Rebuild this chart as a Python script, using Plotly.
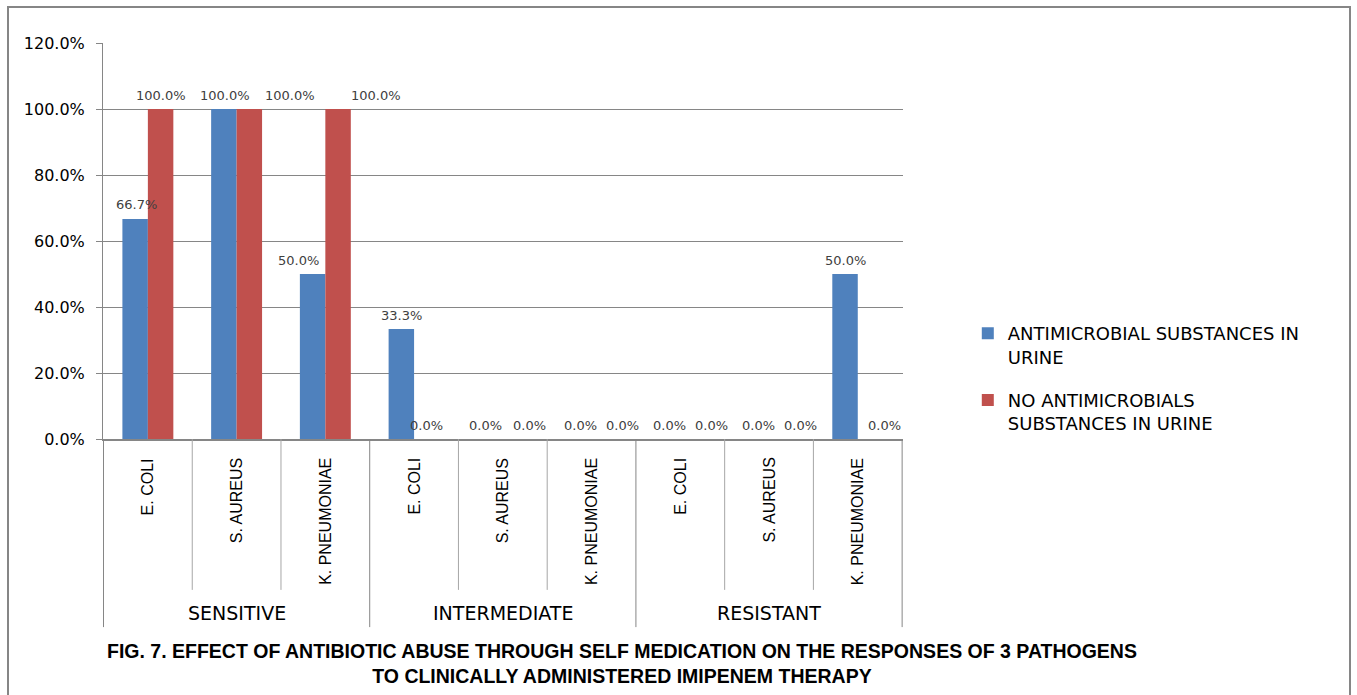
import plotly.graph_objects as go

# Response categories and the pathogens tested within each
responses = ["SENSITIVE", "INTERMEDIATE", "RESISTANT"]
pathogens = ["E. COLI", "S. AUREUS", "K. PNEUMONIAE"]

# Share of isolates per response / pathogen (fractions)
with_antimicrobials = [0.667, 1.0, 0.5, 0.333, 0.0, 0.0, 0.0, 0.0, 0.5]
without_antimicrobials = [1.0, 1.0, 1.0, 0.0, 0.0, 0.0, 0.0, 0.0, 0.0]

series_names = [
    "ANTIMICROBIAL SUBSTANCES IN<br>URINE",
    "NO ANTIMICROBIALS<br>SUBSTANCES IN URINE",
]
series_colors = ["#4F81BD", "#C0504D"]

caption = ("FIG. 7. EFFECT OF ANTIBIOTIC ABUSE THROUGH SELF MEDICATION ON THE RESPONSES OF 3 PATHOGENS"
           "<br>TO CLINICALLY ADMINISTERED IMIPENEM THERAPY")

# two-level category axis: [response, pathogen]
level_outer = [r for r in responses for _ in pathogens]
level_inner = [p for _ in responses for p in pathogens]
x_cats = [level_outer, level_inner]

GRID = "#868686"
LABEL_FONT = "DejaVu Sans"
BARGAP = 0.426

# horizontal nudges (px) that keep neighbouring value labels apart
label_nudge = [
    [1, 1, -14, 0, -5, 2, 2, 2, 0],
    [0, 41, 38, 0, 14, 18, 18, 19, 14],
]

fig = go.Figure()
all_series = [with_antimicrobials, without_antimicrobials]
for i, (name, vals, col) in enumerate(zip(series_names, all_series, series_colors)):
    fig.add_trace(go.Bar(
        x=x_cats, y=vals, name=name, legendgroup=f"g{i}",
        marker=dict(color=col, line=dict(width=0)),
        textposition="none",
    ))

n_cat = len(level_inner)
n_series = len(all_series)
bar_w = (1 - BARGAP) / n_series
shapes = []
annotations = []

# value labels above each bar
for s, vals in enumerate(all_series):
    offset = (s - (n_series - 1) / 2) * bar_w
    for k, v in enumerate(vals):
        annotations.append(dict(
            x=k + offset, xref="x", y=v, yref="y", text=f"{v:.1%}",
            showarrow=False, xanchor="center", yanchor="middle",
            xshift=label_nudge[s][k], yshift=14,
            font=dict(family=LABEL_FONT, size=13, color="#404040"),
        ))

# boundaries between categories below the axis
for k in range(n_cat + 1):
    xb = k - 0.5
    is_group_edge = (k % len(pathogens) == 0)
    shapes.append(dict(
        type="line", xref="x", yref="paper",
        x0=xb, x1=xb, y0=0, y1=-0.475 if is_group_edge else -0.381,
        line=dict(color=GRID if is_group_edge else "#a6a6a6", width=1),
    ))

# pathogen labels (rotated)
for k, name in enumerate(level_inner):
    annotations.append(dict(
        x=k, xref="x", y=-0.043, yref="paper", text=name, showarrow=False,
        textangle=-90, xanchor="center", yanchor="top",
        font=dict(family="Liberation Sans", size=16, color="#000000"),
    ))

# response group labels
for g, name in enumerate(responses):
    annotations.append(dict(
        x=g * len(pathogens) + (len(pathogens) - 1) / 2, xref="x",
        y=-0.439, yref="paper", text=name, showarrow=False,
        xanchor="center", yanchor="middle",
        font=dict(family=LABEL_FONT, size=19, color="#000000"),
    ))

# figure caption
annotations.append(dict(
    x=0.649, xref="paper", y=-0.568, yref="paper", text="<b>" + caption + "</b>",
    showarrow=False, xanchor="center", yanchor="middle", align="center",
    font=dict(family="Liberation Sans", size=19.5, color="#000000"),
))

# outer chart frame
shapes.append(dict(
    type="rect", xref="paper", yref="paper",
    x0=-0.11875, x1=1.55875, y0=-0.9, y1=1.0909,
    line=dict(color=GRID, width=2), fillcolor="rgba(0,0,0,0)", layer="below",
))

fig.update_layout(
    width=1357, height=695, autosize=False,
    margin=dict(l=103, r=454, t=43, b=256),
    paper_bgcolor="white", plot_bgcolor="white",
    barmode="group", bargap=BARGAP, bargroupgap=0,
    showlegend=True,
    legend=dict(
        x=1.081, y=0.313, xanchor="left", yanchor="top",
        valign="top", tracegroupgap=17, traceorder="grouped",
        font=dict(family=LABEL_FONT, size=18, color="#000000"),
        bgcolor="rgba(0,0,0,0)",
    ),
    shapes=shapes,
    annotations=annotations,
)

fig.update_xaxes(
    showticklabels=False, showdividers=False, ticks="",
    showgrid=False, showline=True, linecolor=GRID, linewidth=2,
    zeroline=False,
)
fig.update_yaxes(
    range=[0, 1.2], tick0=0, dtick=0.2, tickformat=".1%",
    showgrid=True, gridcolor=GRID, gridwidth=1,
    showline=True, linecolor=GRID, linewidth=1,
    ticks="outside", ticklen=6, tickcolor=GRID, ticklabelstandoff=8,
    zeroline=False,
    tickfont=dict(family=LABEL_FONT, size=16, color="#000000"),
)

fig.write_html("out.html")
